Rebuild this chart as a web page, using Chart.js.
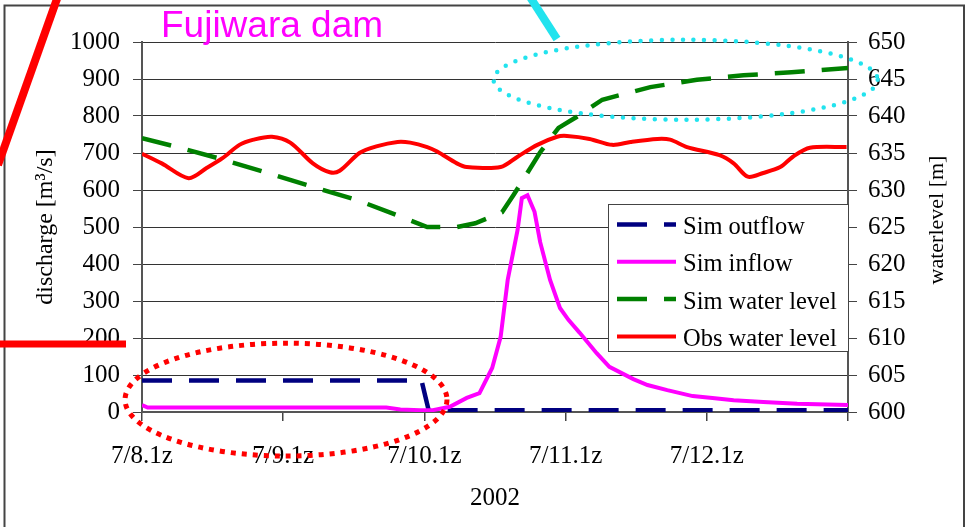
<!DOCTYPE html>
<html>
<head>
<meta charset="utf-8">
<title>Fujiwara dam</title>
<script src="https://cdn.jsdelivr.net/npm/chart.js@4"></script>
<style>
  html, body { margin: 0; padding: 0; background: #fff; }
  canvas { display: block; }
</style>
</head>
<body>
<canvas id="graph" width="967" height="527"></canvas>
<script>
// time is counted in days from 7/8 01:00 (2002)
const dayLabels = ['7/8.1z', '7/9.1z', '7/10.1z', '7/11.1z', '7/12.1z'];

// Sim outflow [m3/s]
const outflowDay = [0, 1.98, 2.03, 5];
const outflowQ   = [85, 85, 5, 5];

// Sim inflow [m3/s]
const inflowDay = [0, 0.04, 1.73, 1.83, 1.97, 2.06, 2.18, 2.30, 2.39, 2.48, 2.54, 2.59, 2.66, 2.69,
                   2.73, 2.78, 2.82, 2.89, 2.96, 3.02, 3.10, 3.22, 3.31, 3.48, 3.58, 3.72, 3.90, 4.04,
                   4.19, 4.40, 4.64, 5.0];
const inflowQ   = [19, 12, 12, 7, 5, 5, 14, 38, 51, 119, 203, 357, 492, 578,
                   586, 541, 459, 357, 281, 249, 214, 159, 122, 89, 73, 59, 43, 38,
                   32, 27, 22, 19];

// Sim water level [m]
const simDay   = [0, 0.23, 0.54, 0.89, 1.23, 1.53, 1.90, 2.02, 2.23, 2.36, 2.55, 2.63, 2.70, 2.82,
                  2.95, 3.08, 3.26, 3.60, 3.93, 4.26, 4.60, 5.0];
const simLevel = [637.0, 635.9, 634.3, 632.3, 630.3, 628.6, 625.9, 625.0, 625.0, 625.5, 627.0, 629.3, 631.4, 635.1,
                  638.4, 639.9, 642.2, 643.9, 644.9, 645.5, 645.9, 646.5];

// Obs water level [m]
const obsDay   = [0, 0.14, 0.33, 0.46, 0.57, 0.69, 0.79, 0.92, 1.05, 1.21, 1.33, 1.40, 1.54, 1.66,
                  1.81, 1.90, 2.02, 2.09, 2.23, 2.30, 2.54, 2.66, 2.80, 2.94, 3.01, 3.17, 3.33, 3.46,
                  3.65, 3.74, 3.86, 4.09, 4.19, 4.29, 4.40, 4.52, 4.61, 4.73, 4.99];
const obsLevel = [634.9, 633.6, 631.6, 633.0, 634.3, 636.1, 636.8, 637.2, 636.4, 633.6, 632.4, 632.6, 635.0, 635.9,
                  636.5, 636.4, 635.8, 635.2, 633.6, 633.1, 633.1, 634.5, 636.1, 637.2, 637.3, 636.9, 636.1, 636.5,
                  636.9, 636.8, 635.8, 634.7, 633.6, 631.8, 632.3, 633.1, 634.5, 635.7, 635.8];

const serif = "'Liberation Serif', 'Times New Roman', serif";
const sans  = "'Liberation Sans', Arial, sans-serif";

function toPoints(xs, ys) {
  return xs.map((x, i) => ({ x: x, y: ys[i] }));
}

// frame, legend box, titles and the hand-drawn markup
const decor = {
  id: 'decor',
  beforeDraw(chart) {
    const ctx = chart.ctx;
    ctx.save();
    ctx.fillStyle = '#fff';
    ctx.fillRect(0, 0, chart.width, chart.height);
    ctx.strokeStyle = '#444';
    ctx.lineWidth = 2;
    ctx.strokeRect(4.5, 5.5, 959.5, 600);
    ctx.restore();
  },
  afterDatasetsDraw(chart) {
    const ctx = chart.ctx;
    const box = { x: 608.5, y: 204.5, w: 240, h: 147 };
    ctx.save();
    ctx.fillStyle = '#fff';
    ctx.fillRect(box.x, box.y, box.w, box.h);
    ctx.strokeStyle = '#444';
    ctx.lineWidth = 1;
    ctx.strokeRect(box.x, box.y, box.w, box.h);
    chart.data.datasets.forEach((ds, i) => {
      const y = box.y + 20 + i * 37.3;
      ctx.strokeStyle = ds.borderColor;
      ctx.lineWidth = ds.borderWidth;
      ctx.setLineDash(ds.borderDash || []);
      ctx.beginPath();
      ctx.moveTo(617, y);
      ctx.lineTo(676, y);
      ctx.stroke();
      ctx.setLineDash([]);
      ctx.fillStyle = '#000';
      ctx.font = '24.5px ' + serif;
      ctx.textAlign = 'left';
      ctx.textBaseline = 'alphabetic';
      ctx.fillText(ds.label, 683, y + 9.5);
    });
    ctx.restore();
  },
  afterDraw(chart) {
    const ctx = chart.ctx;
    const x = chart.scales.x, yq = chart.scales.yq, yl = chart.scales.yl;
    ctx.save();

    // chart title
    ctx.fillStyle = '#ff00ff';
    ctx.font = '37px ' + sans;
    ctx.textAlign = 'left';
    ctx.textBaseline = 'alphabetic';
    ctx.fillText('Fujiwara dam', 161, 37);

    // right axis title, reading upwards
    ctx.fillStyle = '#000';
    ctx.font = '22px ' + serif;
    ctx.textAlign = 'center';
    ctx.textBaseline = 'middle';
    ctx.translate(937, 220);
    ctx.rotate(-Math.PI / 2);
    ctx.fillText('waterlevel [m]', 0, 0);
    ctx.setTransform(1, 0, 0, 1, 0, 0);

    // red dotted ring around the outflow period
    let cx = (x.getPixelForValue(-0.12) + x.getPixelForValue(2.16)) / 2;
    let rx = (x.getPixelForValue(2.16) - x.getPixelForValue(-0.12)) / 2;
    let cy = (yq.getPixelForValue(186) + yq.getPixelForValue(-119)) / 2;
    let ry = (yq.getPixelForValue(-119) - yq.getPixelForValue(186)) / 2;
    ctx.strokeStyle = '#ff0000';
    ctx.lineWidth = 5;
    ctx.lineCap = 'butt';
    ctx.setLineDash([5, 6]);
    ctx.beginPath();
    ctx.ellipse(cx, cy, rx, ry, 0, 0, Math.PI * 2);
    ctx.stroke();

    // cyan dotted ring around the late water level
    cx = (x.getPixelForValue(2.49) + x.getPixelForValue(5.21)) / 2;
    rx = (x.getPixelForValue(5.21) - x.getPixelForValue(2.49)) / 2;
    cy = (yl.getPixelForValue(650.3) + yl.getPixelForValue(639.5)) / 2;
    ry = (yl.getPixelForValue(639.5) - yl.getPixelForValue(650.3)) / 2;
    ctx.strokeStyle = '#22e3ee';
    ctx.lineWidth = 4.5;
    ctx.lineCap = 'round';
    ctx.setLineDash([0, 10.6]);
    ctx.beginPath();
    ctx.ellipse(cx, cy, rx, ry, 0, 0, Math.PI * 2);
    ctx.stroke();
    ctx.setLineDash([]);

    // pointer strokes
    ctx.lineCap = 'butt';
    ctx.strokeStyle = '#ff0000';
    ctx.lineWidth = 8;
    ctx.beginPath();
    ctx.moveTo(58, -4);
    ctx.lineTo(-2, 165);
    ctx.stroke();
    ctx.lineWidth = 7;
    ctx.beginPath();
    ctx.moveTo(0, 344);
    ctx.lineTo(126, 344);
    ctx.stroke();
    ctx.strokeStyle = '#22e3ee';
    ctx.lineWidth = 8;
    ctx.beginPath();
    ctx.moveTo(530, -3);
    ctx.lineTo(557, 39);
    ctx.stroke();

    ctx.restore();
  }
};

Chart.defaults.font.family = serif;
Chart.defaults.color = '#000';

new Chart(document.getElementById('graph').getContext('2d'), {
  type: 'line',
  data: {
    datasets: [
      { label: 'Sim outflow', data: toPoints(outflowDay, outflowQ), yAxisID: 'yq',
        borderColor: '#000080', borderWidth: 4.5, borderDash: [30, 17], order: 4 },
      { label: 'Sim inflow', data: toPoints(inflowDay, inflowQ), yAxisID: 'yq',
        borderColor: '#ff00ff', borderWidth: 4, order: 3 },
      { label: 'Sim water level', data: toPoints(simDay, simLevel), yAxisID: 'yl',
        borderColor: '#008000', borderWidth: 4.5, borderDash: [30, 17], order: 2 },
      { label: 'Obs water level', data: toPoints(obsDay, obsLevel), yAxisID: 'yl',
        borderColor: '#ff0000', borderWidth: 4, tension: 0.3, order: 1 }
    ]
  },
  options: {
    responsive: false,
    animation: false,
    devicePixelRatio: 1,
    layout: { padding: { top: 42 } },
    elements: { point: { radius: 0 }, line: { fill: false } },
    plugins: { legend: { display: false }, tooltip: { enabled: false } },
    scales: {
      x: {
        type: 'linear', position: 'bottom', min: 0, max: 5,
        ticks: { stepSize: 1, autoSkip: false, maxRotation: 0, padding: 20,
                 font: { size: 25 }, callback: v => dayLabels[v] || '' },
        grid: { drawOnChartArea: false, tickLength: 9, color: '#444', lineWidth: 1.5 },
        border: { color: '#555', width: 2 },
        title: { display: true, text: '2002', font: { size: 25 }, padding: { bottom: 14 } },
        afterFit: s => { s.height = 115; }
      },
      yq: {
        position: 'left', min: 0, max: 1000,
        ticks: { stepSize: 100, padding: 13, font: { size: 25 }, callback: v => String(v) },
        grid: { color: '#333', lineWidth: 1, tickLength: 9, tickColor: '#444' },
        border: { color: '#555', width: 2 },
        title: { display: true, text: 'discharge [m³/s]', font: { size: 24 }, padding: { top: 31 } },
        afterFit: s => { s.width = 142; }
      },
      yl: {
        position: 'right', min: 600, max: 650,
        ticks: { stepSize: 5, padding: 11, font: { size: 25 } },
        grid: { drawOnChartArea: false, tickLength: 9, color: '#444' },
        border: { color: '#555', width: 2 },
        afterFit: s => { s.width = 119; }
      }
    }
  },
  plugins: [decor]
});
</script>
</body>
</html>
